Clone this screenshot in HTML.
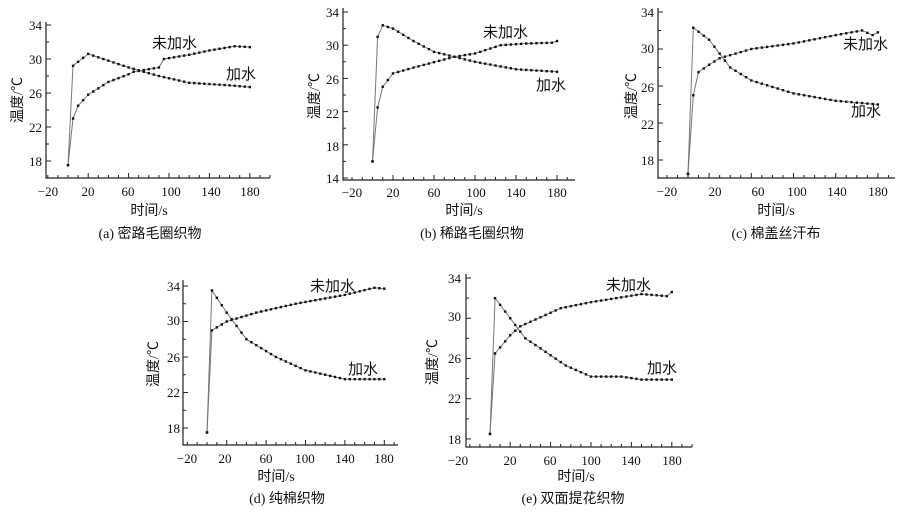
<!DOCTYPE html>
<html><head><meta charset="utf-8"><style>
body{margin:0;background:#fff;width:900px;height:511px;overflow:hidden}
svg text{font-family:"Liberation Serif","Noto Serif CJK SC",serif;font-size:13px;fill:#111}
svg text.c{font-family:"Liberation Serif","Noto Sans CJK SC",sans-serif;font-size:14px}
svg text.L{font-family:"Liberation Sans","Noto Sans CJK SC",sans-serif;font-size:15px}
</style></head><body>
<svg id="s" width="900" height="511" viewBox="0 0 900 511" xmlns="http://www.w3.org/2000/svg">
<g text-anchor="end">
<text x="42" y="30">34</text><text x="42" y="64">30</text><text x="42" y="98">26</text><text x="42" y="132">22</text><text x="42" y="166">18</text>
<text x="339" y="17">34</text><text x="339" y="50">30</text><text x="339" y="84">26</text><text x="339" y="118">22</text><text x="339" y="151">18</text><text x="339" y="183">14</text>
<text x="654" y="17">34</text><text x="654" y="53">30</text><text x="654" y="92">26</text><text x="654" y="129">22</text><text x="654" y="165">18</text>
<text x="180" y="291">34</text><text x="180" y="325">30</text><text x="180" y="362">26</text><text x="180" y="397">22</text><text x="180" y="433">18</text>
<text x="461" y="283">34</text><text x="461" y="321">30</text><text x="461" y="363">26</text><text x="461" y="403">22</text><text x="461" y="444">18</text>
</g>
<g text-anchor="middle">
<text x="48" y="196">−20</text><text x="88" y="196">20</text><text x="128" y="196">60</text><text x="171" y="196">100</text><text x="211" y="196">140</text><text x="250" y="196">180</text>
<text x="352" y="197">−20</text><text x="393" y="197">20</text><text x="434" y="197">60</text><text x="476" y="197">100</text><text x="516" y="197">140</text><text x="557" y="197">180</text>
<text x="667" y="196">−20</text><text x="715" y="196">20</text><text x="758" y="196">60</text><text x="797" y="196">100</text><text x="837" y="196">140</text><text x="878" y="196">180</text>
<text x="187" y="463">−20</text><text x="225" y="463">20</text><text x="266" y="463">60</text><text x="305" y="463">100</text><text x="345" y="463">140</text><text x="384" y="463">180</text>
<text x="458" y="465">−20</text><text x="510" y="465">20</text><text x="550" y="465">60</text><text x="591" y="465">100</text><text x="631" y="465">140</text><text x="672" y="465">180</text>
<text class="c" x="149" y="215">时间/s</text><text class="c" x="150" y="238">(a)  密路毛圈织物</text>
<text class="c" x="464" y="215">时间/s</text><text class="c" x="472" y="238">(b)  稀路毛圈织物</text>
<text class="c" x="776" y="215">时间/s</text><text class="c" x="776" y="238">(c) 棉盖丝汗布</text>
<text class="c" x="276" y="481">时间/s</text><text class="c" x="287" y="503">(d)  纯棉织物</text>
<text class="c" x="576" y="481">时间/s</text><text class="c" x="573" y="503">(e) 双面提花织物</text>
</g>
<g>
<text class="L" x="152" y="48">未加水</text><text class="L" x="226" y="79">加水</text>
<text class="L" x="483" y="37">未加水</text><text class="L" x="536" y="90">加水</text>
<text class="L" x="843" y="49">未加水</text><text class="L" x="851" y="116">加水</text>
<text class="L" x="310" y="291">未加水</text><text class="L" x="348" y="374">加水</text>
<text class="L" x="606" y="290">未加水</text><text class="L" x="647" y="373">加水</text>
<text class="c" transform="translate(22,100) rotate(-90)" text-anchor="middle">温度/℃</text>
<text class="c" transform="translate(319,96) rotate(-90)" text-anchor="middle">温度/℃</text>
<text class="c" transform="translate(636,96) rotate(-90)" text-anchor="middle">温度/℃</text>
<text class="c" transform="translate(158,364) rotate(-90)" text-anchor="middle">温度/℃</text>
<text class="c" transform="translate(437,362) rotate(-90)" text-anchor="middle">温度/℃</text>
</g>
<g id="g"></g>
</svg>
<script>
var C=[
{t0:68,sx:1.01,v1:34,y1:25,sy:8.5,ax:46,ay:178,top:22,right:270,
 a:[[0,17.5],[5,23],[10,24.5],[20,25.8],[40,27.3],[60,28.2],[65,28.5],[90,29],[95,30],[120,30.5],[140,31],[165,31.5],[180,31.4]],
 b:[[0,17.5],[5,29.2],[20,30.6],[40,29.8],[60,29],[90,28],[120,27.2],[160,26.9],[180,26.7]]},
{t0:372.5,sx:1.025,v1:34,y1:12,sy:8.3,ax:343,ay:180,top:8,right:575,
 a:[[0,16],[5,22.5],[10,25],[20,26.6],[40,27.3],[80,28.6],[100,29],[125,30],[150,30.2],[175,30.3],[180,30.5]],
 b:[[0,16],[5,31],[10,32.4],[20,32],[40,30.5],[60,29.2],[100,28],[140,27.1],[180,26.8]]},
{t0:688,sx:1.055,v1:34,y1:12,sy:9.25,ax:658,ay:178,top:8,right:895,
 a:[[0,16.5],[5,25],[10,27.5],[20,28.3],[30,29],[60,30],[100,30.6],[140,31.5],[165,32],[175,31.5],[180,31.8]],
 b:[[0,16.5],[5,32.3],[20,31],[40,28],[60,26.6],[100,25.2],[140,24.4],[180,24]]},
{t0:207,sx:0.985,v1:34,y1:286,sy:8.875,ax:183,ay:445,top:280,right:398,
 a:[[0,17.5],[5,29],[20,30],[50,31],[90,32],[140,33],[170,33.8],[180,33.7]],
 b:[[0,17.5],[5,33.5],[20,31],[40,28],[70,26],[100,24.5],[140,23.5],[180,23.5]]},
{t0:490,sx:1.01,v1:34,y1:278,sy:10.06,ax:466,ay:447,top:274,right:692,
 a:[[0,18.5],[5,26.5],[20,28.3],[30,29.2],[50,30.1],[70,31],[100,31.6],[150,32.4],[175,32.2],[180,32.6]],
 b:[[0,18.5],[5,32],[20,30],[35,28],[50,27],[75,25.3],[100,24.2],[130,24.2],[150,23.9],[180,23.9]]}];
var h='';
function f(p,t){for(var i=1;i<p.length;i++)if(t<=p[i][0]){var a=p[i-1],b=p[i];return a[1]+(b[1]-a[1])*(t-a[0])/(b[0]-a[0]);}return p[p.length-1][1];}
C.forEach(function(c){
 h+='<path d="M'+c.ax+' '+c.top+'V'+c.ay+'H'+c.right+'" fill="none" stroke="#222" stroke-width="1.2"/>';
 for(var t=-20;t<=200;t+=10){var x=c.t0+t*c.sx;if(x<c.ax||x>c.right)continue;h+='<line x1="'+x+'" y1="'+c.ay+'" x2="'+x+'" y2="'+(c.ay-(t%40==20?5:3))+'" stroke="#222"/>';}
 for(var v=14;v<=34;v+=2){var y=c.y1+(c.v1-v)*c.sy;if(y>c.ay||y<c.top)continue;h+='<line x1="'+c.ax+'" y1="'+y+'" x2="'+(c.ax+(v%4==2?5:3))+'" y2="'+y+'" stroke="#222"/>';}
 [c.a,c.b].forEach(function(p){var pts=[];for(var t=0;t<=180;t+=5){pts.push([c.t0+t*c.sx,c.y1+(c.v1-f(p,t))*c.sy]);}
  h+='<polyline points="'+pts.map(function(q){return q[0].toFixed(1)+','+q[1].toFixed(1)}).join(' ')+'" fill="none" stroke="#777" stroke-width="1"/>';
  pts.forEach(function(q){h+='<rect x="'+(q[0]-1.2)+'" y="'+(q[1]-1.2)+'" width="2.4" height="2.4" fill="#111"/>';});});
});
document.getElementById('g').innerHTML=h;
</script>
</body></html>
